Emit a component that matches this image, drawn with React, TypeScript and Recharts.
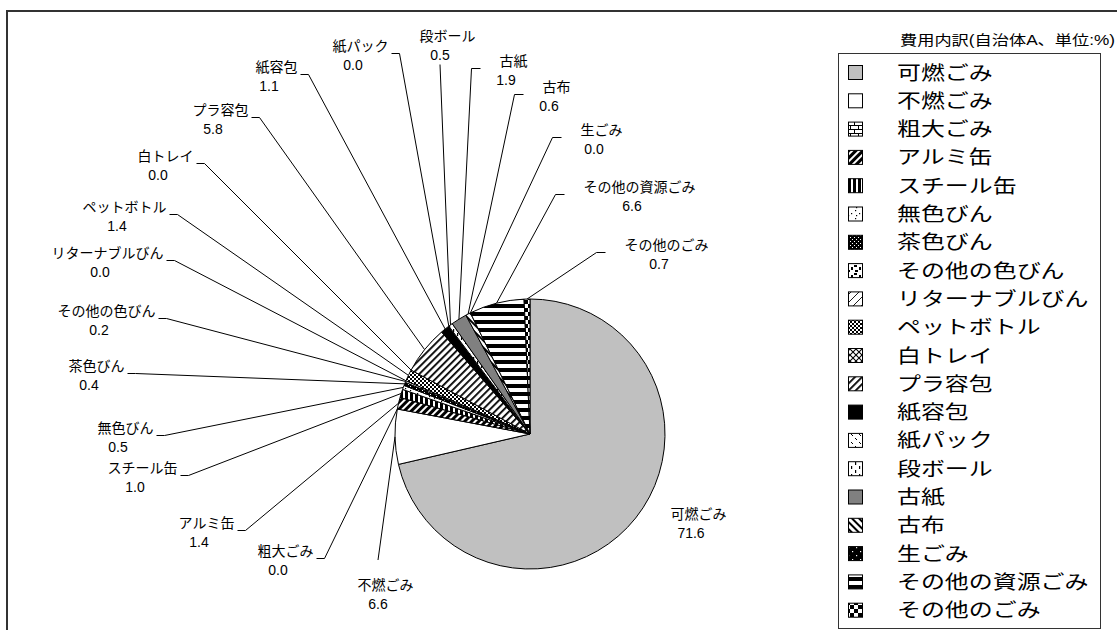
import React from 'react';
import { PieChart, Pie, Cell, Legend } from 'recharts';

// ---- data ----
const CATEGORIES: string[] = [
  '可燃ごみ', '不燃ごみ', '粗大ごみ', 'アルミ缶', 'スチール缶', '無色びん', '茶色びん',
  'その他の色びん', 'リターナブルびん', 'ペットボトル', '白トレイ', 'プラ容包', '紙容包',
  '紙パック', '段ボール', '古紙', '古布', '生ごみ', 'その他の資源ごみ', 'その他のごみ',
];
const SHARES: number[] = [
  71.6, 6.6, 0.0, 1.4, 1.0, 0.5, 0.4, 0.2, 0.0, 1.4, 0.0, 5.8, 1.1, 0.0, 0.5, 1.9, 0.6, 0.0, 6.6, 0.7,
];
const LEGEND_TITLE = '費用内訳(自治体A、単位:%)';

// ---- style / layout ----
const FILLS: string[] = [
  '#c0c0c0', '#ffffff', 'url(#pt2)', 'url(#pt3)', 'url(#pt4)', 'url(#pt5)', 'url(#pt6)',
  'url(#pt7)', 'url(#pt8)', 'url(#pt9)', 'url(#pt10)', 'url(#pt11)', '#000000',
  'url(#pt13)', 'url(#pt14)', '#808080', 'url(#pt16)', 'url(#pt17)', 'url(#pt18)', 'url(#pt19)',
];
// hand-placed label block centres, offsets from the pie centre (as in the original chart)
const LABEL_OFFSETS: [number, number][] = [
  [161, 89], [-152, 160], [-252, 126], [-331, 98], [-395, 43], [-412, 3], [-441, -59],
  [-431, -114], [-430, -172], [-413, -218], [-372, -269], [-317, -315], [-261, -358],
  [-177, -379], [-90, -389], [-24, -364], [19, -338], [64, -295], [102, -238], [129, -180],
];

const FONT = "'Liberation Sans', 'Noto Sans CJK JP', sans-serif";
const RADIAN = Math.PI / 180;

const data = CATEGORIES.map((name, i) => ({ name, value: SHARES[i] }));

function textWidth(s: string, size: number): number {
  let w = 0;
  for (const ch of s) {
    const c = ch.codePointAt(0) || 0;
    if (c > 0x2e80) w += size;
    else if (ch === '.') w += size * 0.278;
    else w += size * 0.556;
  }
  return w;
}

const renderLabel = (props: any) => {
  const { cx, cy, midAngle, outerRadius, index } = props;
  const name: string = props.payload?.name ?? CATEGORIES[index];
  const value: number = props.payload?.value ?? SHARES[index];
  const [ox, oy] = LABEL_OFFSETS[index];
  const bx = cx + ox;
  const by = cy + oy;
  const nameW = textWidth(name, 14);
  const nameCx = bx + 7.5;
  const nameLeft = nameCx - nameW / 2;
  const nameRight = nameCx + nameW / 2;
  const px = cx + outerRadius * Math.cos(-midAngle * RADIAN);
  const py = cy + outerRadius * Math.sin(-midAngle * RADIAN);
  const sy = by - 1.5;
  let pts: [number, number][];
  if (px > nameRight + 2) pts = [[nameRight + 3, sy], [nameRight + 11, sy], [px, py]];
  else if (px < nameLeft - 17) pts = [[nameLeft - 19, sy], [nameLeft - 28, sy], [px, py]];
  else if (py < by) pts = [[bx, by - 34], [px, py]];
  else pts = [[bx, by + 19.5], [px, py]];
  const last = pts[pts.length - 2];
  const showLine = Math.hypot(px - last[0], py - last[1]) > 25;
  return (
    <g key={`lbl-${index}`}>
      {showLine && (
        <polyline
          points={pts.map((p) => p.join(',')).join(' ')}
          fill="none"
          stroke="#000"
          strokeWidth={1}
        />
      )}
      <text x={nameCx} y={by - 4.5} textAnchor="middle" fontSize={14} fontFamily={FONT} fill="#000">
        {name}
      </text>
      <text x={bx} y={by + 14.5} textAnchor="middle" fontSize={14} fontFamily={FONT} fill="#000">
        {Number(value).toFixed(1)}
      </text>
    </g>
  );
};

const LegendContent = () => {
  return (
    <svg width={279} height={605} style={{ display: 'block' }}>
      <text
        x={62}
        y={20}
        fontSize={14}
        fontFamily={FONT}
        fill="#000"
        textLength={215}
        lengthAdjust="spacingAndGlyphs"
      >
        {LEGEND_TITLE}
      </text>
      <rect x={0.5} y={28.5} width={262} height={575} fill="#fff" stroke="#333" strokeWidth={1} />
      {CATEGORIES.map((n, i) => {
        const c = 47.5 + 28.3 * i;
        return (
          <g key={n}>
            <rect x={10.5} y={c - 7} width={14} height={14} fill={FILLS[i]} stroke="#000" strokeWidth={1} />
            <text
              transform={`translate(59, ${c + 7}) scale(1.26, 1)`}
              fontSize={19}
              fontFamily={FONT}
              fill="#000"
            >
              {n}
            </text>
          </g>
        );
      })}
    </svg>
  );
};

export default function App() {
  return (
    <div
      style={{
        position: 'absolute',
        left: 0,
        top: 0,
        width: 1117,
        height: 630,
        overflow: 'hidden',
        background: '#fff',
      }}
    >
      <div
        style={{
          position: 'absolute',
          left: 6,
          top: 10,
          width: 1300,
          height: 800,
          border: '2px solid #333',
        }}
      />
      <div style={{ position: 'absolute', left: 0, top: 0 }}>
        <PieChart width={1117} height={630} margin={{ top: 0, right: 0, bottom: 0, left: 0 }}>
          <defs>
            <pattern id="pt2" width="8" height="8" patternUnits="userSpaceOnUse">
              <rect width="8" height="8" fill="#fff" />
              <path d="M0 0.5H8M0 4.5H8M0.5 0V4.5M4.5 4.5V8" stroke="#000" strokeWidth="1" />
            </pattern>
            <pattern id="pt3" width="5" height="5" patternUnits="userSpaceOnUse" patternTransform="rotate(45)">
              <rect width="5" height="5" fill="#fff" />
              <rect width="3" height="5" fill="#000" />
            </pattern>
            <pattern id="pt4" width="5" height="5" patternUnits="userSpaceOnUse">
              <rect width="5" height="5" fill="#fff" />
              <rect width="3" height="5" fill="#000" />
            </pattern>
            <pattern id="pt5" width="8" height="8" patternUnits="userSpaceOnUse">
              <rect width="8" height="8" fill="#fff" />
              <rect x="1" y="1" width="1.2" height="1.2" fill="#000" />
              <rect x="5" y="4" width="1.2" height="1.2" fill="#000" />
              <rect x="2" y="6" width="1.2" height="1.2" fill="#000" />
            </pattern>
            <pattern id="pt6" width="4" height="4" patternUnits="userSpaceOnUse">
              <rect width="4" height="4" fill="#000" />
              <rect x="0" y="0" width="1" height="1" fill="#fff" />
              <rect x="2" y="2" width="1" height="1" fill="#fff" />
            </pattern>
            <pattern id="pt7" width="8" height="8" patternUnits="userSpaceOnUse">
              <rect width="8" height="8" fill="#fff" />
              <rect x="0" y="0" width="3" height="2" fill="#000" />
              <rect x="5" y="2" width="2" height="3" fill="#000" />
              <rect x="1" y="5" width="3" height="2" fill="#000" />
            </pattern>
            <pattern id="pt8" width="8" height="8" patternUnits="userSpaceOnUse">
              <rect width="8" height="8" fill="#fff" />
              <path d="M0 8L8 0" stroke="#000" strokeWidth="0.9" />
            </pattern>
            <pattern id="pt9" width="4" height="4" patternUnits="userSpaceOnUse">
              <rect width="4" height="4" fill="#fff" />
              <rect x="0" y="0" width="2" height="2" fill="#000" />
              <rect x="2" y="2" width="2" height="2" fill="#000" />
            </pattern>
            <pattern id="pt10" width="6" height="6" patternUnits="userSpaceOnUse">
              <rect width="6" height="6" fill="#fff" />
              <path d="M0 0L6 6M6 0L0 6" stroke="#000" strokeWidth="1.1" />
            </pattern>
            <pattern id="pt11" width="5" height="5" patternUnits="userSpaceOnUse" patternTransform="rotate(45)">
              <rect width="5" height="5" fill="#fff" />
              <rect width="1.8" height="5" fill="#000" />
            </pattern>
            <pattern id="pt13" width="8" height="8" patternUnits="userSpaceOnUse">
              <rect width="8" height="8" fill="#fff" />
              <rect x="1" y="5" width="1" height="1" fill="#000" />
              <rect x="2" y="6" width="1" height="1" fill="#000" />
              <rect x="5" y="1" width="1" height="1" fill="#000" />
              <rect x="6" y="2" width="1" height="1" fill="#000" />
            </pattern>
            <pattern id="pt14" width="8" height="8" patternUnits="userSpaceOnUse">
              <rect width="8" height="8" fill="#fff" />
              <rect x="5" y="1" width="1.2" height="3" fill="#000" />
              <rect x="1" y="5" width="1.2" height="3" fill="#000" />
            </pattern>
            <pattern id="pt16" width="5" height="5" patternUnits="userSpaceOnUse" patternTransform="rotate(-45)">
              <rect width="5" height="5" fill="#fff" />
              <rect width="2" height="5" fill="#000" />
            </pattern>
            <pattern id="pt17" width="8" height="8" patternUnits="userSpaceOnUse">
              <rect width="8" height="8" fill="#000" />
              <rect x="2" y="2" width="1.2" height="1.2" fill="#fff" />
              <rect x="6" y="6" width="1.2" height="1.2" fill="#fff" />
            </pattern>
            <pattern id="pt18" width="8" height="8" patternUnits="userSpaceOnUse">
              <rect width="8" height="8" fill="#fff" />
              <rect width="8" height="4" fill="#000" />
            </pattern>
            <pattern id="pt19" width="8" height="8" patternUnits="userSpaceOnUse">
              <rect width="8" height="8" fill="#fff" />
              <rect x="0" y="0" width="4" height="4" fill="#000" />
              <rect x="4" y="4" width="4" height="4" fill="#000" />
            </pattern>
          </defs>
          <Pie
            data={data}
            dataKey="value"
            nameKey="name"
            cx={530}
            cy={434}
            outerRadius={135}
            startAngle={90}
            endAngle={-270}
            stroke="#000"
            strokeWidth={1}
            label={renderLabel}
            labelLine={false}
            isAnimationActive={false}
          >
            {data.map((d, i) => (
              <Cell key={d.name} fill={FILLS[i]} stroke="#000" strokeWidth={1} />
            ))}
          </Pie>
          <Legend
            layout="vertical"
            align="right"
            verticalAlign="top"
            content={LegendContent}
            wrapperStyle={{ left: 838, top: 25, width: 279, height: 605, right: 'auto' }}
          />
        </PieChart>
      </div>
    </div>
  );
}
